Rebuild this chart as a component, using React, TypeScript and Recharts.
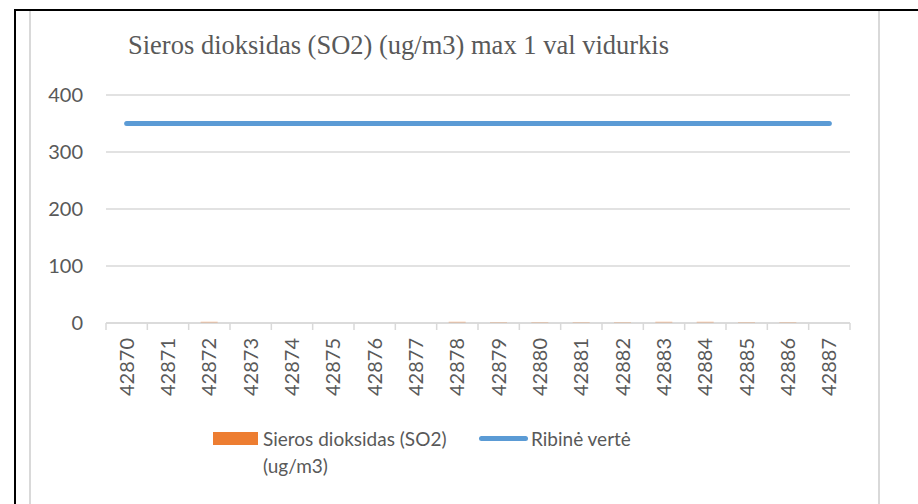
import React from 'react'
import {
  ComposedChart,
  Bar,
  Line,
  XAxis,
  YAxis,
  CartesianGrid,
  Legend,
} from 'recharts'

const dates = [
  '42870', '42871', '42872', '42873', '42874', '42875', '42876', '42877', '42878',
  '42879', '42880', '42881', '42882', '42883', '42884', '42885', '42886', '42887',
]
const so2 = [0, 0, 2, 0, 0, 0, 0, 0, 2, 1.5, 1.5, 1.5, 1.5, 2, 2, 1.5, 1.5, 0]
const limit = [350, 350, 350, 350, 350, 350, 350, 350, 350, 350, 350, 350, 350, 350, 350, 350, 350, 350]
const yTicks = [0, 100, 200, 300, 400]
const legendOrder = ['so2', 'limit']

const data = dates.map((d, i) => ({ date: d, so2: so2[i], limit: limit[i] }))

const GRAY = '#595959'
const GRID = '#d9d9d9'
const FONT = 'Lato, "Liberation Sans", sans-serif'

function XTick({ x, y, payload, index, visibleTicksCount }: any) {
  const half = payload?.offset ?? 0
  return (
    <g>
      <line x1={x - half} x2={x - half} y1={y - 8} y2={y - 1} stroke={GRID} strokeWidth={1.5} />
      {index === visibleTicksCount - 1 && (
        <line x1={x + half} x2={x + half} y1={y - 8} y2={y - 1} stroke={GRID} strokeWidth={1.5} />
      )}
      <text
        x={x}
        y={y + 7}
        dy="0.35em"
        transform={`rotate(-90 ${x} ${y + 7})`}
        textAnchor="end"
        fill={GRAY}
        fontSize={20}
        fontFamily={FONT}
      >
        {payload.value}
      </text>
    </g>
  )
}

function LegendContent({ payload }: any) {
  if (!payload?.length) return null
  const items = [...payload].sort(
    (a: any, b: any) => legendOrder.indexOf(a.dataKey) - legendOrder.indexOf(b.dataKey)
  )
  return (
    <div style={{ position: 'relative', width: 500, height: 0, overflow: 'visible', fontFamily: FONT, fontSize: 19, color: GRAY }}>
      {items.map((entry: any, i: number) => {
        const left = i === 0 ? 0 : 266
        return (
          <div key={entry.value} style={{ position: 'absolute', left, top: 0 }}>
            {entry.type === 'rect' ? (
              <div style={{ position: 'absolute', left: 0, top: 8, width: 45, height: 13, background: entry.color }} />
            ) : (
              <div style={{ position: 'absolute', left: 0, top: 12, width: 49, height: 5, borderRadius: 3, background: entry.color }} />
            )}
            <div
              style={{
                position: 'absolute',
                left: i === 0 ? 50 : 52,
                top: 1,
                width: i === 0 ? 205 : 200,
                lineHeight: '27px',
                whiteSpace: i === 0 ? 'normal' : 'nowrap',
              }}
            >
              {entry.value}
            </div>
          </div>
        )
      })}
    </div>
  )
}

export default function App() {
  return (
    <div style={{ position: 'absolute', left: 0, top: 0, width: 918, height: 504, background: '#fff', overflow: 'hidden' }}>
      <div style={{ position: 'absolute', left: 14, top: 9, width: 904, height: 2, background: '#000' }} />
      <div style={{ position: 'absolute', left: 14, top: 9, width: 2, height: 495, background: '#000' }} />
      <div style={{ position: 'absolute', left: 29, top: 11, width: 2, height: 493, background: GRID }} />
      <div style={{ position: 'absolute', left: 878, top: 11, width: 2, height: 493, background: GRID }} />
      <div
        style={{
          position: 'absolute',
          left: 128,
          top: 32,
          fontFamily: '"Liberation Serif", "Times New Roman", serif',
          fontSize: 26.5,
          lineHeight: 1,
          color: GRAY,
          whiteSpace: 'nowrap',
        }}
      >
        Sieros dioksidas (SO2) (ug/m3) max 1 val vidurkis
      </div>
      <div style={{ position: 'absolute', left: 0, top: 0 }}>
        <ComposedChart
          width={918}
          height={504}
          data={data}
          margin={{ top: 95, right: 68, bottom: 111, left: 46 }}
        >
          <CartesianGrid vertical={false} stroke={GRID} strokeWidth={1.5} />
          <XAxis
            dataKey="date"
            interval={0}
            height={70}
            tickLine={false}
            axisLine={{ stroke: GRID, strokeWidth: 1.5 }}
            tick={<XTick />}
          />
          <YAxis
            domain={[0, 400]}
            ticks={yTicks}
            width={60}
            axisLine={false}
            tickLine={false}
            tickSize={6}
            tickMargin={17}
            tick={{ fontSize: 20, fill: GRAY, fontFamily: FONT }}
          />
          <Legend
            content={<LegendContent />}
            wrapperStyle={{ position: 'absolute', left: 213, top: 424, width: 500, height: 0 }}
          />
          <Bar
            dataKey="so2"
            name="Sieros dioksidas (SO2) (ug/m3)"
            fill="#ED7D31"
            barSize={17}
            legendType="rect"
            isAnimationActive={false}
          />
          <Line
            dataKey="limit"
            name="Ribinė vertė"
            stroke="#5B9BD5"
            strokeWidth={5}
            strokeLinecap="round"
            dot={false}
            activeDot={false}
            legendType="line"
            isAnimationActive={false}
          />
        </ComposedChart>
      </div>
    </div>
  )
}
